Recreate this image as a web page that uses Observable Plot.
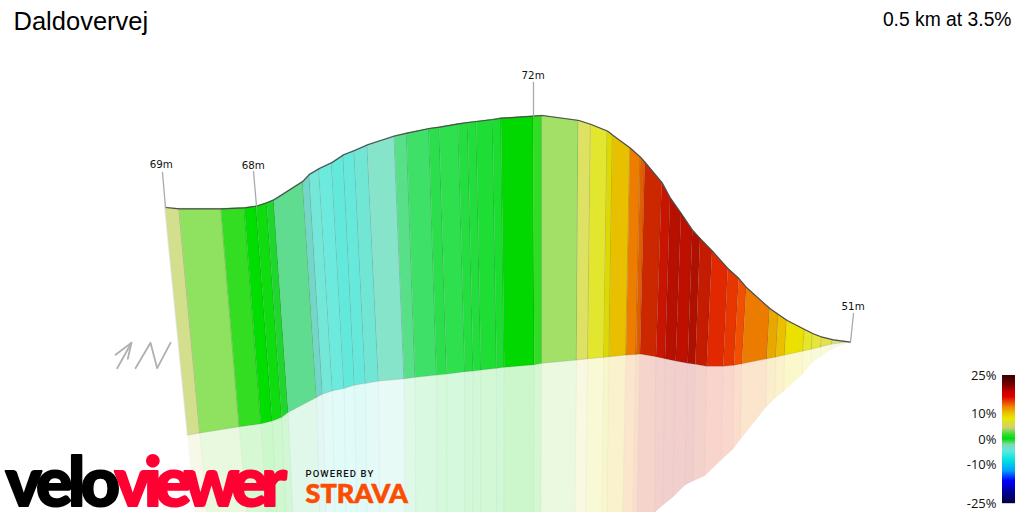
<!DOCTYPE html>
<html>
<head>
<meta charset="utf-8">
<script src="https://cdn.jsdelivr.net/npm/d3@7"></script>
<script src="https://cdn.jsdelivr.net/npm/@observablehq/plot@0.6"></script>
<style>
html,body{margin:0;padding:0;background:#fff;overflow:hidden}
svg{display:block}
</style>
</head>
<body>
<div id="chart"></div>
<script>
const title = "Daldovervej";
const summary = "0.5 km at 3.5%";

// Ridge of the projected profile at each strip boundary
const topX = [165,179,221,244.3,256,266.7,273.7,302.7,309.3,319,331.7,343.3,354.3,367.3,394.3,406.7,429,439.3,458.3,467.7,476.3,492.7,501,533,541.7,578.3,590.7,607.3,612.7,630,640.3,644.7,661.7,670,681,692.3,700,712,727.7,738.7,746.3,769.7,778.3,786.7,804.7,812.7,821.7,832.7,850];
const topY = [207,208.3,208.3,207.3,205.7,202.3,199.3,180.7,173.7,168,162,154.3,150,144.3,135.5,132.7,128,126.7,123.3,122,121,119,117.7,115.7,115,120,124,130.7,135,147.8,157,162,182.3,197.7,213.3,230,238.3,250.7,268.3,278.3,287.3,308.3,314.3,320,329.3,333.3,336.7,339.3,341.7];
// Near edge of the wall
const bottomX = [187.7,200,239.3,261,272.3,281.7,288.3,316.7,322.7,332.7,344.3,354.7,365.7,378.7,404.3,415.3,436.7,446.7,465,473.3,481,496.7,504.3,534.3,541.7,576.7,588,604,609.3,626,636,640,656,665,675.7,687.7,695.3,706.7,723.3,734,742,767,776,784.7,803,811.7,821,831.7,850];
const bottomY = [435,433,426.7,423.7,421,417.3,412.3,397.3,394,390.7,388.3,385,383.3,381,378.7,377.3,375,374,371.7,371,370,368.3,367.3,364.7,363.3,360,358.7,357.3,356.7,355,354.5,354,356.7,358.7,361,363.3,364.3,366.3,366.3,365.3,363.7,358.7,357,355,351,349,346.7,344,341.7];
// Far edge of the pale floor
const floorX = [195,207,247,267,277,286,293,320,326,335,346,357,367,380,405,416,437,447,465,473,481,497,504,534,541,575,586,602,607,623,633,637,655,663,673,685,693,704.5,721,733,740.5,766,775,784,802.5,811.5,821,831.7,850];
const floorY = [514,514,514,514,514,514,514,514,514,514,514,514,514,514,514,514,514,514,514,514,514,514,514,514,514,514,514,514,514,514,514,514,512,505,497,485,481,476,460,449,439,407,398,391,374,363,356,349,341.7];
const stripColors = ["#d3df8d","#8fe25f","#33dd22","#00dd00","#0edc0e","#1ed62e","#60dc90","#72d6c8","#73e8d8","#6beadd","#62e9dc","#66e8da","#72e6d4","#86e4cb","#58e088","#3fe068","#2bdf4c","#2fe04e","#24de40","#22de3c","#1edd34","#1add30","#00d800","#2fdd22","#a2e068","#dde262","#e3e62f","#ded900","#e8c000","#ec7d00","#e06000","#cc2800","#c81400","#b81000","#bd1000","#b01000","#c41c00","#e22800","#e83600","#f05000","#ec7c00","#e8a800","#ecc000","#ece000","#e4e62a","#e6e63a","#e2e24e","#d8e080"];

const elevLabels = ["69m","68m","72m","51m"];
const elevBaseX = [165,256,533,850];
const elevBaseY = [207,205.7,115.7,341.7];
const elevTipX = [162,253,533,853];
const elevTipY = [172,171,82,313];
const elevTextX = [160.8,252.7,532.6,852.6];
const elevTextY = [164,165,75,306];

const legendTicks = ["25%","10%","0%","-10%","-25%"];
const legendTickY = [375,413,439,464,503];
const legendStops = ["#3a0000","#800000","#c80000","#e00000","#f08000","#e8c000","#e8e800","#d0d070","#30dd30","#00dd00","#80d8b0","#60e8e0","#00e0e0","#00a0ff","#0000ff","#0000a0","#000040"];
const legendStopY = [375,385,391,396,406,412,418,427,434,438,444,450,460,470,480,490,503];

const arrowX = [116.7,131,115,131,127.3];
const arrowY = [367.7,342.3,354.3,342.3,358.3];
const arrowPart = [0,0,1,1,1];
const zigX = [135,150,156.7,170];
const zigY = [367.7,342.3,367.7,342.3];

const strips = d3.range(stripColors.length).flatMap(i => [i, i + 1].map(j => ({
  strip: i, color: stripColors[i],
  tx: topX[j], ty: topY[j], bx: bottomX[j], by: bottomY[j], fx: floorX[j], fy: floorY[j]
})));
const ridge = topX.map((x, i) => ({x, y: topY[i]}));
const leaders = elevLabels.flatMap((t, i) => [{id: t, x: elevBaseX[i], y: elevBaseY[i]}, {id: t, x: elevTipX[i], y: elevTipY[i]}]);
const labels = elevLabels.map((t, i) => ({t, x: elevTextX[i], y: elevTextY[i]}));
const stopColor = d3.scaleLinear().domain(legendStopY).range(legendStops).interpolate(d3.interpolateRgb);
const legendRows = d3.range(375, 503).map(y => ({y1: y, y2: y + 1.2, c: stopColor(y)}));
const glyph = [...arrowX.map((x, i) => ({g: "a" + arrowPart[i], x, y: arrowY[i]})), ...zigX.map((x, i) => ({g: "z", x, y: zigY[i]}))];

const plot = Plot.plot({
  width: 1024, height: 512,
  margin: 0,
  x: {domain: [0, 1024], axis: null},
  y: {domain: [512, 0], axis: null},
  color: {type: "identity"},
  style: {background: "#fff", overflow: "hidden"},
  marks: [
    Plot.area(strips, {x1: "bx", y1: "by", x2: "fx", y2: "fy", z: "strip", fill: "color", fillOpacity: 0.2, stroke: "#777", strokeOpacity: 0.03, strokeWidth: 1}),
    Plot.area(strips, {x1: "tx", y1: "ty", x2: "bx", y2: "by", z: "strip", fill: "color", stroke: "#333", strokeOpacity: 0.12, strokeWidth: 1}),
    Plot.line(ridge, {x: "x", y: "y", stroke: "#4d4d4d", strokeWidth: 1.2}),
    Plot.line(leaders, {x: "x", y: "y", z: "id", stroke: "#aaa", strokeWidth: 1.3}),
    Plot.text(labels, {x: "x", y: "y", text: "t", fill: "#111", fontSize: 10.3, fontFamily: "DejaVu Sans"}),
    Plot.line(glyph, {x: "x", y: "y", z: "g", stroke: "#b0b0b0", strokeWidth: 1.8}),
    Plot.text([title], {x: [13], y: [21], text: d => d, textAnchor: "start", fill: "#000", fontSize: 25.5, fontFamily: "Liberation Sans"}),
    Plot.text([summary], {x: [1011], y: [19], text: d => d, textAnchor: "end", fill: "#000", fontSize: 19.3, fontFamily: "Liberation Sans"}),
    Plot.rect(legendRows, {x1: () => 1002, x2: () => 1015, y1: "y1", y2: "y2", fill: "c"}),
    Plot.text(legendTicks, {x: () => 996, y: (d, i) => legendTickY[i], text: d => d, textAnchor: "end", fill: "#111", fontSize: 13, fontFamily: "Open Sans"}),
    Plot.text(["velo"], {x: [5], y: [483.5], text: d => d, textAnchor: "start", fill: "#000", stroke: "#000", strokeWidth: 2, fontSize: 68, fontWeight: 900, fontFamily: "Lato", className: "logo1"}),
    Plot.text(["viewer"], {x: [114], y: [483.5], text: d => d, textAnchor: "start", fill: "#ff0033", stroke: "#ff0033", strokeWidth: 2, fontSize: 68, fontWeight: 900, fontFamily: "Lato", className: "logo2"}),
    Plot.text(["POWERED BY"], {x: [305], y: [473], text: d => d, textAnchor: "start", fill: "#111", fontSize: 9.5, fontWeight: 500, fontFamily: "Roboto", className: "pow"}),
    Plot.text(["STRAVA"], {x: [305], y: [494], text: d => d, textAnchor: "start", fill: "#fc4c02", stroke: "#fc4c02", strokeWidth: 0.6, fontSize: 27, fontWeight: 900, fontFamily: "Lato"})
  ]
});
d3.select(plot).selectAll(".logo1 text, text.logo1").style("letter-spacing", "-4.5px");
d3.select(plot).selectAll(".logo2 text, text.logo2").style("letter-spacing", "-6.8px");
d3.select(plot).selectAll(".pow text, text.pow").style("letter-spacing", "1.1px");
document.getElementById("chart").append(plot);
</script>
</body>
</html>
